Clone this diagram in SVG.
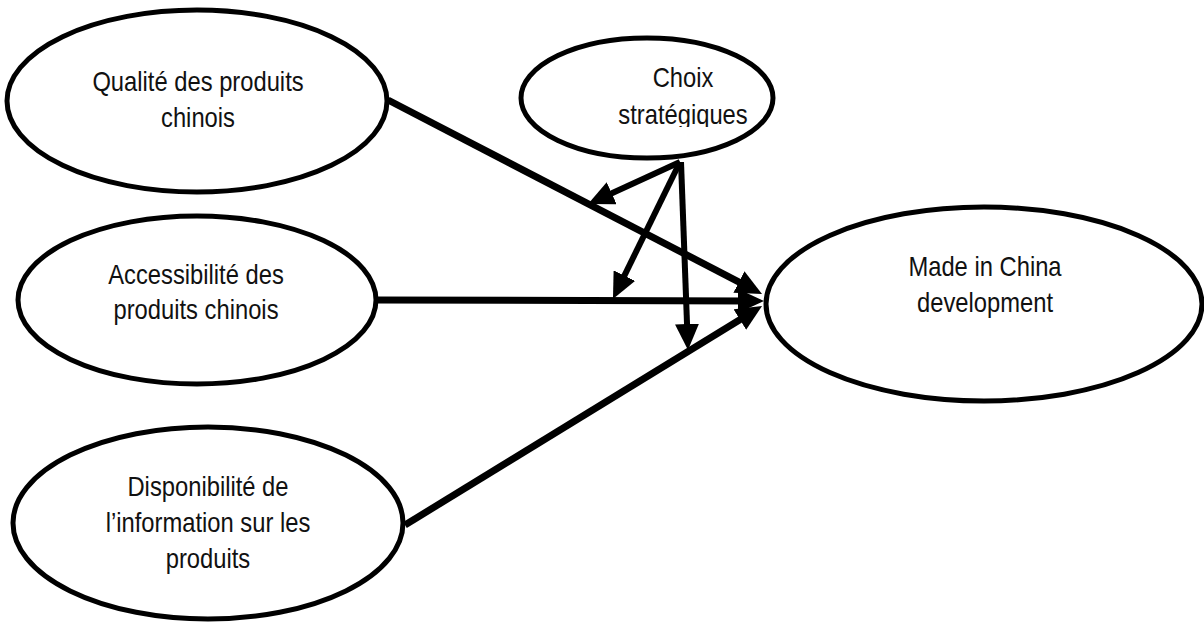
<svg xmlns="http://www.w3.org/2000/svg" width="1204" height="622" viewBox="0 0 1204 622">
  <style>
    .node ellipse { fill: #ffffff; stroke: #000000; stroke-width: 5; }
    .node text { font-family: "Liberation Sans", Arial, sans-serif; font-size: 27px; fill: #111111; text-anchor: middle; }
    .conn line { stroke: #000000; stroke-linecap: butt; }
    .main { stroke-width: 7; }
    .mod { stroke-width: 6; }
  </style>
  <defs>
    <marker id="arrow" viewBox="0 0 26 24" markerWidth="26" markerHeight="24" refX="10" refY="12" orient="auto" markerUnits="userSpaceOnUse">
      <path d="M0,0 L26,12 L0,24 z" fill="#000000"/>
    </marker>
    <clipPath id="choixClip">
      <rect x="520" y="30" width="260" height="97"/>
    </clipPath>
  </defs>

  <g id="node-qualite" class="node">
    <ellipse cx="197" cy="101" rx="190" ry="91"/>
    <g transform="translate(198,0) scale(0.88,1)">
      <text x="0" y="91">Qualité des produits</text>
      <text x="0" y="127">chinois</text>
    </g>
  </g>

  <g id="node-accessibilite" class="node">
    <ellipse cx="197" cy="300" rx="179" ry="84"/>
    <g transform="translate(196,0) scale(0.88,1)">
      <text x="0" y="284">Accessibilité des</text>
      <text x="0" y="319">produits chinois</text>
    </g>
  </g>

  <g id="node-disponibilite" class="node">
    <ellipse cx="208" cy="523" rx="195" ry="96"/>
    <g transform="translate(208,0) scale(0.88,1)">
      <text x="0" y="496">Disponibilité de</text>
      <text x="0" y="532">l’information sur les</text>
      <text x="0" y="568">produits</text>
    </g>
  </g>

  <g id="node-choix" class="node">
    <ellipse cx="647" cy="98" rx="126" ry="60"/>
    <g clip-path="url(#choixClip)">
      <g transform="translate(683,0) scale(0.88,1)">
        <text x="0" y="87">Choix</text>
        <text x="0" y="124">stratégiques</text>
      </g>
    </g>
  </g>

  <g id="node-made" class="node">
    <ellipse cx="984" cy="304" rx="218" ry="97"/>
    <g transform="translate(985,0) scale(0.88,1)">
      <text x="0" y="276">Made in China</text>
      <text x="0" y="312">development</text>
    </g>
  </g>

  <g id="connectors" class="conn">
    <line class="main" x1="388" y1="100" x2="747.8" y2="286.6" marker-end="url(#arrow)"/>
    <line class="main" x1="375" y1="300" x2="748" y2="301" marker-end="url(#arrow)"/>
    <line class="main" x1="405" y1="525" x2="748.4" y2="314.4" marker-end="url(#arrow)"/>
    <line class="mod" x1="680" y1="162" x2="602.6" y2="197.4" marker-end="url(#arrow)"/>
    <line class="mod" x1="680" y1="162" x2="620" y2="284.6" marker-end="url(#arrow)"/>
    <line class="mod" x1="681" y1="162" x2="687.4" y2="334" marker-end="url(#arrow)"/>
  </g>
</svg>
